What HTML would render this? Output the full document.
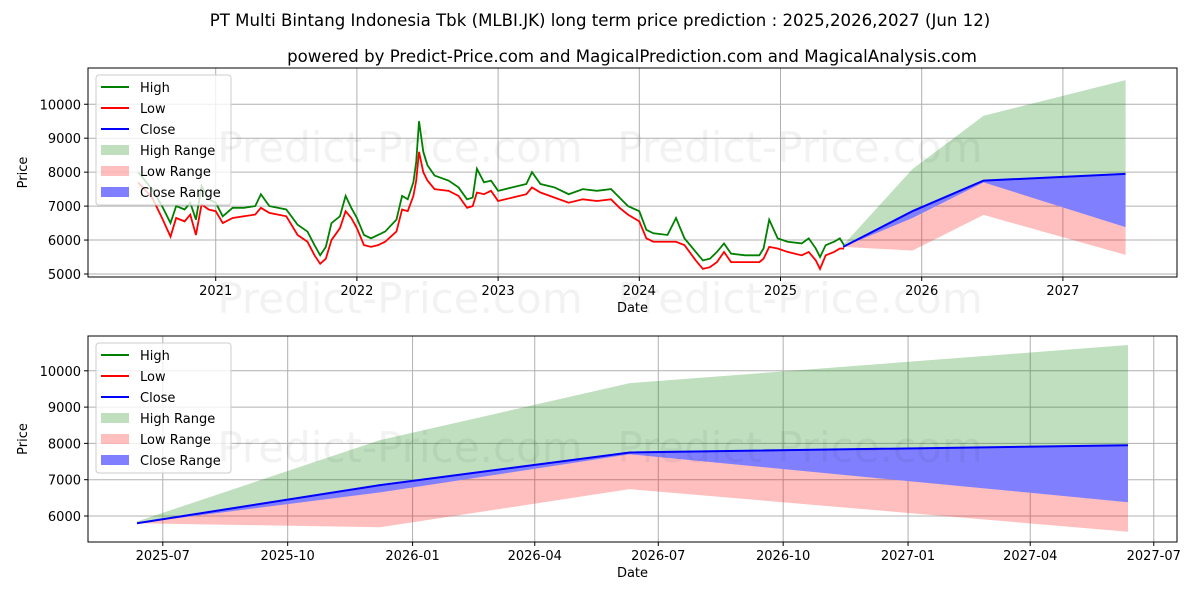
<!DOCTYPE html>
<html><head><meta charset="utf-8">
<style>
body{margin:0;background:#fff;}
svg{display:block;font-family:"DejaVu Sans","Liberation Sans",sans-serif;}
</style></head>
<body>
<svg id="chart" width="1200" height="600" viewBox="0 0 1200 600" xmlns="http://www.w3.org/2000/svg">
<rect x="0" y="0" width="1200" height="600" fill="#fff"/>
<text x="600" y="26" font-size="16.6" text-anchor="middle">PT Multi Bintang Indonesia Tbk (MLBI.JK) long term price prediction : 2025,2026,2027 (Jun 12)</text>
<text x="632" y="62" font-size="16.6" text-anchor="middle">powered by Predict-Price.com and MagicalPrediction.com and MagicalAnalysis.com</text>
<g id="top"></g>
<g id="bot"></g>
</svg>
<script>
// ---- data ----
const histDates = [2020.45,2020.55,2020.62,2020.68,2020.72,2020.78,2020.82,2020.86,2020.90,2020.95,2021.0,2021.05,2021.12,2021.2,2021.28,2021.32,2021.38,2021.5,2021.58,2021.65,2021.7,2021.74,2021.78,2021.82,2021.88,2021.92,2021.96,2022.0,2022.05,2022.1,2022.15,2022.2,2022.28,2022.32,2022.36,2022.4,2022.42,2022.44,2022.47,2022.5,2022.55,2022.65,2022.72,2022.78,2022.82,2022.85,2022.9,2022.95,2023.0,2023.1,2023.2,2023.24,2023.3,2023.4,2023.5,2023.6,2023.7,2023.8,2023.86,2023.92,2024.0,2024.05,2024.1,2024.2,2024.26,2024.32,2024.4,2024.45,2024.5,2024.55,2024.6,2024.65,2024.75,2024.85,2024.88,2024.92,2024.98,2025.05,2025.15,2025.2,2025.25,2025.28,2025.32,2025.38,2025.42,2025.45];
const histHigh = [8000,7500,7000,6500,7000,6900,7100,6600,7600,7200,7100,6700,6950,6950,7000,7350,7000,6900,6450,6250,5850,5550,5800,6500,6700,7300,6950,6650,6150,6050,6150,6250,6600,7300,7200,7700,8300,9500,8600,8200,7900,7750,7550,7200,7250,8100,7700,7750,7450,7550,7650,8000,7650,7550,7350,7500,7450,7500,7250,7000,6850,6300,6200,6150,6650,6050,5650,5400,5450,5650,5900,5600,5550,5550,5750,6600,6050,5950,5900,6050,5750,5500,5850,5950,6050,5850];
const histLow = [7700,7250,6650,6100,6650,6550,6750,6150,7050,6900,6850,6500,6650,6700,6750,6950,6800,6700,6150,5950,5550,5300,5450,6000,6350,6850,6650,6350,5850,5800,5850,5950,6250,6900,6850,7300,7750,8600,8000,7750,7500,7450,7300,6950,7000,7400,7350,7450,7150,7250,7350,7550,7400,7250,7100,7200,7150,7200,6950,6750,6550,6050,5950,5950,5950,5850,5400,5150,5200,5350,5650,5350,5350,5350,5450,5800,5750,5650,5550,5650,5400,5150,5550,5650,5750,5750];
const fcDates = ["2025-06-12","2025-12-08","2026-06-10","2027-06-12"];
const fcClose = [5800,6850,7750,7950];
const fcHighTop = [5850,8090,9660,10710];
const fcLowBottom = [5800,5690,6740,5565];
const fcCloseBottom = [5800,6650,7700,6380];
const topYTicks = [5000,6000,7000,8000,9000,10000];
const topXTicks = [2021,2022,2023,2024,2025,2026,2027];
const botYTicks = [6000,7000,8000,9000,10000];
const botXTicks = ["2025-07-01","2025-10-01","2026-01-01","2026-04-01","2026-07-01","2026-10-01","2027-01-01","2027-04-01","2027-07-01"];
const botXLabels = ["2025-07","2025-10","2026-01","2026-04","2026-07","2026-10","2027-01","2027-04","2027-07"];

const NS="http://www.w3.org/2000/svg";
function mk(parent,tag,attrs,text){const e=document.createElementNS(NS,tag);for(const k in attrs)e.setAttribute(k,attrs[k]);if(text!==undefined)e.textContent=text;parent.appendChild(e);return e;}
function toYear(s){const d=new Date(s+"T00:00:00Z");const y=d.getUTCFullYear();const st=Date.UTC(y,0,1),en=Date.UTC(y+1,0,1);return y+(d-st)/(en-st);}
function dayNum(s){return Date.parse(s+"T00:00:00Z")/86400000;}

const T={l:88,r:1177,t:68,b:277};
const tx=v=>215.7+(v-2021)*141.2;
const ty=v=>274-(v-5000)*0.03395;
const B={l:88,r:1177,t:336,b:542};
const d0=dayNum("2025-06-12");
const bx=s=>137+(dayNum(s)-d0)*1.3575;
const by=v=>516-(v-6000)*0.0363;

function watermark(g,x,y){
  const w=mk(g,"text",{x:x,y:y,"font-size":42,fill:"#000","fill-opacity":"0.05","text-anchor":"middle"},"Predict-Price.com");
  
  
}

function panel(g,P,xs,xTicks,xLabels,yTicks,xf,yf,hist){
  const frame=mk(g,"rect",{x:P.l,y:P.t,width:P.r-P.l,height:P.b-P.t,fill:"#fff"});
  
  
  xTicks.forEach((t,i)=>{const x=xf(t);
    const gl=mk(g,"line",{x1:x,x2:x,y1:P.t,y2:P.b,stroke:"#b0b0b0","stroke-width":1});
    
    
    mk(g,"line",{x1:x,x2:x,y1:P.b,y2:P.b+4,stroke:"#000"});
    const lb=mk(g,"text",{x:x,y:P.b+18,"font-size":13,"text-anchor":"middle"},xLabels[i]);
    
    
  });
  yTicks.forEach(t=>{const y=yf(t);
    const gl=mk(g,"line",{x1:P.l,x2:P.r,y1:y,y2:y,stroke:"#b0b0b0","stroke-width":1});
    
    
    mk(g,"line",{x1:P.l-4,x2:P.l,y1:y,y2:y,stroke:"#000"});
    const lb=mk(g,"text",{x:P.l-7,y:y+5,"font-size":13,"text-anchor":"end"},String(t));
    
    
  });
  const clip="clip"+P.t;
  const cp=mk(g,"clipPath",{id:clip});mk(cp,"rect",{x:P.l,y:P.t,width:P.r-P.l,height:P.b-P.t});
  const pg=mk(g,"g",{"clip-path":"url(#"+clip+")"});
  
  
  const fx=fcDates.map(xs);
  function band(top,bot,color,op,name){
    let d="M"+fx.map((x,i)=>x+","+yf(top[i])).join("L");
    for(let i=fx.length-1;i>=0;i--)d+="L"+fx[i]+","+yf(bot[i]);
    const p=mk(pg,"path",{d:d+"Z",fill:color,"fill-opacity":op});
    
    
  }
  band(fcHighTop,fcClose,"#008000",0.25,"high-range-band");
  band(fcClose,fcLowBottom,"#ff0000",0.25,"low-range-band");
  band(fcClose,fcCloseBottom,"#8080ff",1,"close-range-band");
  if(hist){
    const hh=mk(pg,"polyline",{points:histDates.map((d,i)=>xs(d)+","+yf(histHigh[i])).join(" "),fill:"none",stroke:"#008000","stroke-width":1.8});
    
    
    const hl=mk(pg,"polyline",{points:histDates.map((d,i)=>xs(d)+","+yf(histLow[i])).join(" "),fill:"none",stroke:"#ff0000","stroke-width":1.8});
    
    
  }
  const cl=mk(pg,"polyline",{points:fx.map((x,i)=>x+","+yf(fcClose[i])).join(" "),fill:"none",stroke:"#0000ff","stroke-width":2});
  
  
  const br=mk(g,"rect",{x:P.l,y:P.t,width:P.r-P.l,height:P.b-P.t,fill:"none",stroke:"#000","stroke-width":1});
  
  
  const L=mk(g,"g",{});
  
  
  const lx=96,ly=P.t+7;
  mk(L,"rect",{x:lx,y:ly,width:135,height:130,rx:3,fill:"#fff","fill-opacity":0.8,stroke:"#ccc"});
  const items=[["High","line","#008000",1],["Low","line","#ff0000",1],["Close","line","#0000ff",1],["High Range","box","#008000",0.25],["Low Range","box","#ff0000",0.25],["Close Range","box","#0000ff",0.5]];
  items.forEach((it,i)=>{const y=ly+12+i*21;
    const e=mk(L,"g",{});
    
    
    if(it[1]=="line")mk(e,"line",{x1:lx+5,x2:lx+33,y1:y,y2:y,stroke:it[2],"stroke-width":2});
    else mk(e,"rect",{x:lx+5,y:y-5,width:28,height:10,fill:it[2],"fill-opacity":it[3]});
    mk(e,"text",{x:lx+44,y:y+5,"font-size":13},it[0]);
  });
  const xt=mk(g,"text",{x:(P.l+P.r)/2,y:P.b+35,"font-size":13,"text-anchor":"middle"},"Date");
  
  
  const yc=(P.t+P.b)/2;
  const yt=mk(g,"text",{x:27,y:yc,"font-size":13,"text-anchor":"middle",transform:"rotate(-90 27 "+yc+")"},"Price");
  
  
}

const topG=document.getElementById("top"), botG=document.getElementById("bot");
panel(topG,T,s=>typeof s==="number"?tx(s):tx(toYear(s)),topXTicks,topXTicks.map(String),topYTicks,tx,ty,true);
panel(botG,B,bx,botXTicks,botXLabels,botYTicks,bx,by,false);
const svg=document.getElementById("chart");
watermark(svg,400,162);watermark(svg,800,162);
watermark(svg,400,313);watermark(svg,800,313);
watermark(svg,400,462);watermark(svg,800,462);
</script>
</body></html>
